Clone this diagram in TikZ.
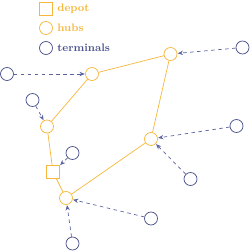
\documentclass[tikz,border=0pt]{standalone}
\usepackage{tikz}
\usetikzlibrary{arrows.meta,positioning}
\definecolor{hubor}{RGB}{246,183,60}
\definecolor{termblue}{RGB}{74,82,140}
\definecolor{arrblue}{RGB}{92,100,160}
\tikzset{
  hubnode/.style={draw=hubor, circle, minimum size=3.9mm, inner sep=0pt, line width=0.6pt},
  termnode/.style={draw=termblue, circle, minimum size=3.9mm, inner sep=0pt, line width=0.6pt},
  depotnode/.style={draw=hubor, rectangle, minimum size=3.9mm, inner sep=0pt, line width=0.6pt},
  route/.style={draw=hubor, line width=0.6pt},
  feed/.style={-{Stealth[length=1.6mm,width=1.3mm]}, dashed, draw=arrblue, line width=0.6pt,
               shorten >=0.3pt},
  legendtext/.style={anchor=west, font=\fontsize{9.3}{11}\selectfont\bfseries, inner sep=1pt},
}

\begin{document}
\begin{tikzpicture}[x=0.03cm, y=-0.03cm]
\useasboundingbox (0,0) rectangle (250,252);

% ---------------- legend ----------------
\node[depotnode] (ldepot) at (46,8.5) {};
\node[legendtext, text=hubor] at (56,8.5) {depot};
\node[hubnode] (lhub) at (46,28) {};
\node[legendtext, text=hubor] at (56,28) {hubs};
\node[termnode] (lterm) at (46,48) {};
\node[legendtext, text=termblue] at (56,48) {terminals};

% ---------------- hubs and depot ----------------
\node[hubnode] (h1) at (92,74) {};
\node[hubnode] (h2) at (47,126.5) {};
\node[hubnode] (h3) at (66,198) {};
\node[hubnode] (h4) at (170.5,54) {};
\node[hubnode] (h5) at (151,139) {};
\node[depotnode] (dep) at (53,172) {};

% hub network
\draw[route] (h1) -- (h4);
\draw[route] (h1) -- (h2);
\draw[route] (h2) -- (dep);
\draw[route] (dep) -- (h3);
\draw[route] (h3) -- (h5);
\draw[route] (h5) -- (h4);

% ---------------- terminals ----------------
\node[termnode] (t1) at (7,74) {};
\node[termnode] (t2) at (242.5,47.5) {};
\node[termnode] (t3) at (32.5,100) {};
\node[termnode] (t4) at (236.5,126) {};
\node[termnode] (t5) at (190.5,179) {};
\node[termnode] (t6) at (72.5,153) {};
\node[termnode] (t7) at (151,218.5) {};
\node[termnode] (t8) at (72.5,243.5) {};

% terminals feed their nearest hub
\draw[feed] (t1) -- (h1);
\draw[feed] (t2) -- (h4);
\draw[feed] (t3) -- (h2);
\draw[feed] (t4) -- (h5);
\draw[feed] (t5) -- (h5);
\draw[feed] (t6) -- (dep);
\draw[feed] (t7) -- (h3);
\draw[feed] (t8) -- (h3);
\end{tikzpicture}
\end{document}
